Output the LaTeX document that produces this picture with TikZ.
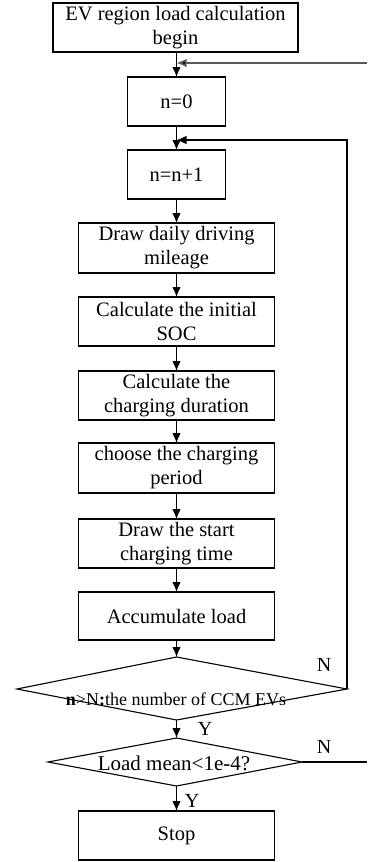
\documentclass[tikz,border=0pt]{standalone}
\usepackage{fontspec}
\setmainfont{Liberation Serif}
\usetikzlibrary{arrows.meta,calc}
\begin{document}
\begin{tikzpicture}[x=1pt,y=-1pt,
  every node/.style={inner sep=0pt, outer sep=0pt},
  box/.style={draw, line width=1.1pt, minimum width=196pt, minimum height=49pt, align=center,
    font=\fontsize{20.5}{24}\selectfont},
  sbox/.style={box, minimum width=98pt},
  lab/.style={font=\fontsize{20}{24}\selectfont},
  arr/.style={line width=1.1pt, -{Latex[length=10pt,width=8.5pt]}},
  ln/.style={line width=1.1pt},
  fb/.style={line width=1.6pt, draw=black!65, -{Latex[length=10pt,width=8.5pt,fill=black]}}
]
\useasboundingbox (0,0) rectangle (367,862);
\fill[white] (0,0) rectangle (367,862);

\node[box, minimum width=245pt] (b1) at (175.5,27.5) {EV region load calculation\\begin};
\node[sbox] (n0) at (176.5,101.5) {n=0};
\node[sbox] (n1) at (176.5,174.5) {n=n+1};
\node[box, minimum height=50pt] (s1) at (176.5,248) {Draw daily driving\\mileage};
\node[box] (s2) at (176.5,321.5) {Calculate the initial\\SOC};
\node[box] (s3) at (176.5,395.5) {Calculate the\\charging duration};
\node[box, minimum height=50pt] (s4) at (176.5,468) {choose the charging\\period};
\node[box] (s5) at (176.5,543.5) {Draw the start\\charging time};
\node[box, minimum height=48pt] (s6) at (176.5,616) {Accumulate load};

% decision 1
\coordinate (d1t) at (176.5,657);
\coordinate (d1r) at (347,689);
\coordinate (d1b) at (176.5,720);
\coordinate (d1l) at (17,689);
\draw[ln] (d1t) -- (d1r) -- (d1b) -- (d1l) -- cycle;
\node[font=\fontsize{18}{22}\selectfont] (d1) at (176,699) {\textbf{n}>N\textbf{:}the number of CCM EVs};

% decision 2
\coordinate (d2t) at (176.5,738);
\coordinate (d2r) at (302,762);
\coordinate (d2b) at (176.5,786);
\coordinate (d2l) at (48,762);
\draw[ln] (d2t) -- (d2r) -- (d2b) -- (d2l) -- cycle;
\node[font=\fontsize{21}{24}\selectfont] (d2) at (174,763) {Load mean<1e-4?};

\node[box, minimum height=49pt] (stop) at (176.5,835.5) {Stop};

% connectors
\coordinate (e1) at (367,63);
\coordinate (j1) at (176.5,63);
\coordinate (j2) at (176.5,140);
\coordinate (e2) at (367,762);

\draw[arr] (b1.south -| n0.north) -- (n0.north);
\draw[fb] (e1) -- (j1);
\draw[arr] (n0.south) -- (n1.north);
\draw[arr] (d1r) |- (j2);
\draw[arr] (n1.south) -- (s1.north);
\draw[arr] (s1.south) -- (s2.north);
\draw[arr] (s2.south) -- (s3.north);
\draw[arr] (s3.south) -- (s4.north);
\draw[arr] (s4.south) -- (s5.north);
\draw[arr] (s5.south) -- (s6.north);
\draw[arr] (s6.south) -- (d1t);
\draw[arr] (d1b) -- (d2t);
\draw[arr] (d2b) -- (stop.north);
\draw[ln] (d2r) -- (e2);

\node[lab] (N1) at (324,665) {N};
\node[lab] (Y1) at (205,729) {Y};
\node[lab] (N2) at (324,747) {N};
\node[lab] (Y2) at (192,801) {Y};
\end{tikzpicture}
\end{document}
